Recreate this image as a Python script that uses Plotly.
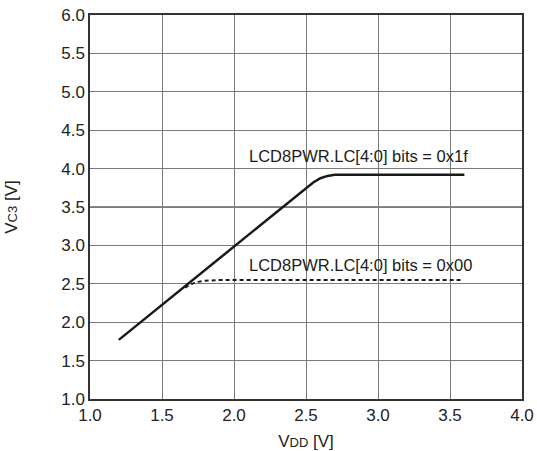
import plotly.graph_objects as go

# VC3 vs VDD, LC = 0x1f
vdd_1f = [1.2, 1.6, 2.0, 2.3, 2.55, 2.6, 2.65, 2.7, 3.0, 3.3, 3.6]
vc3_1f = [1.77, 2.38, 2.99, 3.45, 3.82, 3.875, 3.905, 3.92, 3.92, 3.92, 3.92]

# VC3 vs VDD, LC = 0x00
vdd_00 = [1.66, 1.7, 1.75, 1.8, 1.9, 2.5, 3.0, 3.58]
vc3_00 = [2.45, 2.495, 2.525, 2.54, 2.55, 2.55, 2.55, 2.55]

x_ticks = [1.0, 1.5, 2.0, 2.5, 3.0, 3.5, 4.0]
y_ticks = [1.0, 1.5, 2.0, 2.5, 3.0, 3.5, 4.0, 4.5, 5.0, 5.5, 6.0]

labels = ["LCD8PWR.LC[4:0] bits = 0x1f", "LCD8PWR.LC[4:0] bits = 0x00"]
label_pos = [(2.09, 4.17), (2.09, 2.75)]

font = "Liberation Sans, Arial, sans-serif"

fig = go.Figure()
fig.add_trace(go.Scatter(x=vdd_1f, y=vc3_1f, mode="lines",
                         line=dict(color="#1a1a1a", width=2.5)))
fig.add_trace(go.Scatter(x=vdd_00, y=vc3_00, mode="lines",
                         line=dict(color="#1a1a1a", width=2, dash="4px,3px")))

for text, (x, y) in zip(labels, label_pos):
    fig.add_annotation(x=x, y=y, text=text, showarrow=False, xanchor="left", yanchor="middle",
                       font=dict(size=16.5, color="#1a1a1a", family=font))

# the 3.5 gridline is drawn darker in the original
fig.add_hline(y=3.5, line=dict(color="#1a1a1a", width=1.2), layer="below")

fig.update_xaxes(range=[1.0, 4.0], tickvals=x_ticks, ticktext=[f"{v:.1f}" for v in x_ticks],
                 showgrid=True, gridcolor="#7a7a7a", gridwidth=1,
                 showline=True, linecolor="#333", linewidth=1.5, mirror=True,
                 ticks="", zeroline=False, automargin=False, ticklabeloverflow="allow",
                 tickfont=dict(size=17, color="#222", family=font),
                 title=dict(text="V<span style='font-size:13px'>DD</span> [V]", standoff=14,
                            font=dict(size=17, color="#222", family=font)))
fig.update_yaxes(range=[1.0, 6.0], tickvals=y_ticks, ticktext=[f"{v:.1f}" for v in y_ticks],
                 showgrid=True, gridcolor="#7a7a7a", gridwidth=1,
                 showline=True, linecolor="#333", linewidth=1.5, mirror=True,
                 ticks="", zeroline=False, automargin=False, ticklabeloverflow="allow",
                 tickfont=dict(size=17, color="#222", family=font),
                 title=dict(text="V<span style='font-size:13px'>C3</span> [V]", standoff=39,
                            font=dict(size=17, color="#222", family=font)))

fig.update_layout(width=537, height=451, showlegend=False,
                  margin=dict(l=90, r=15, t=15, b=52),
                  plot_bgcolor="white", paper_bgcolor="white")

# drop the default 8px page margin so the figure fills the window exactly
fig.write_html("out.html", config={"displayModeBar": False},
               post_script="document.body.style.margin='0';document.body.style.overflow='hidden';")
